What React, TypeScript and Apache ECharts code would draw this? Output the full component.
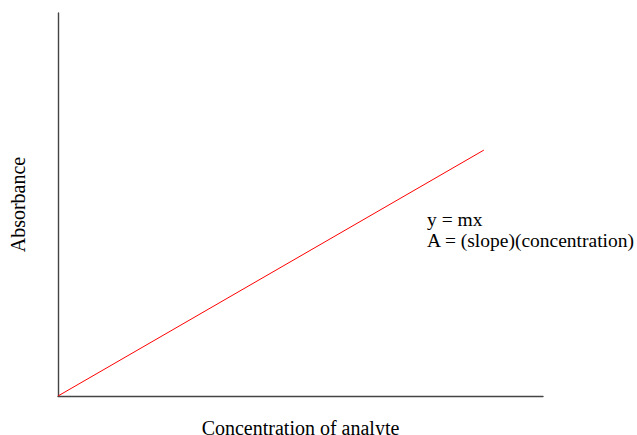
import React, { useEffect, useRef } from "react";
import * as echarts from "echarts";

const concentration = [0, 0.878];
const absorbance = [0, 0.642];
const annotationLines = ["y = mx", "A = (slope)(concentration)"];
const xTitle = "Concentration of analyte";
const yTitle = "Absorbance";

const FONT = "'Liberation Serif', 'Times New Roman', serif";

export default function App() {
  const ref = useRef<HTMLDivElement>(null);
  useEffect(() => {
    if (!ref.current) return;
    const chart = echarts.init(ref.current, undefined, { renderer: "svg" });
    chart.setOption({
      animation: false,
      backgroundColor: "#ffffff",
      grid: {
        left: 58,
        right: 94,
        top: 13,
        bottom: 39,
        containLabel: false,
        outerBoundsMode: "none",
      },
      xAxis: {
        type: "value",
        min: 0,
        max: 1,
        name: xTitle,
        nameLocation: "middle",
        nameGap: 22,
        nameTextStyle: { fontFamily: FONT, fontSize: 20, color: "#000" },
        axisLine: { show: true, lineStyle: { color: "#444", width: 1.4 } },
        axisTick: { show: false },
        axisLabel: { show: false },
        splitLine: { show: false },
      },
      yAxis: {
        type: "value",
        min: 0,
        max: 1,
        name: yTitle,
        nameLocation: "middle",
        nameGap: 30,
        nameTextStyle: { fontFamily: FONT, fontSize: 20, color: "#000" },
        axisLine: { show: true, lineStyle: { color: "#444", width: 1.4 } },
        axisTick: { show: false },
        axisLabel: { show: false },
        splitLine: { show: false },
      },
      graphic: annotationLines.map((t, i) => ({
        type: "text",
        left: 427,
        top: 209 + i * 21,
        style: {
          text: t,
          fontFamily: FONT,
          fontSize: 19.5,
          fill: "#000",
        },
      })),
      series: [
        {
          type: "line",
          data: concentration.map((c, i) => [c, absorbance[i]]),
          showSymbol: false,
          symbol: "none",
          lineStyle: { color: "#ff0000", width: 1 },
        },
      ],
    });
    return () => chart.dispose();
  }, []);
  return <div ref={ref} style={{ width: 637, height: 435, position: "absolute", left: 0, top: 0 }} />;
}
